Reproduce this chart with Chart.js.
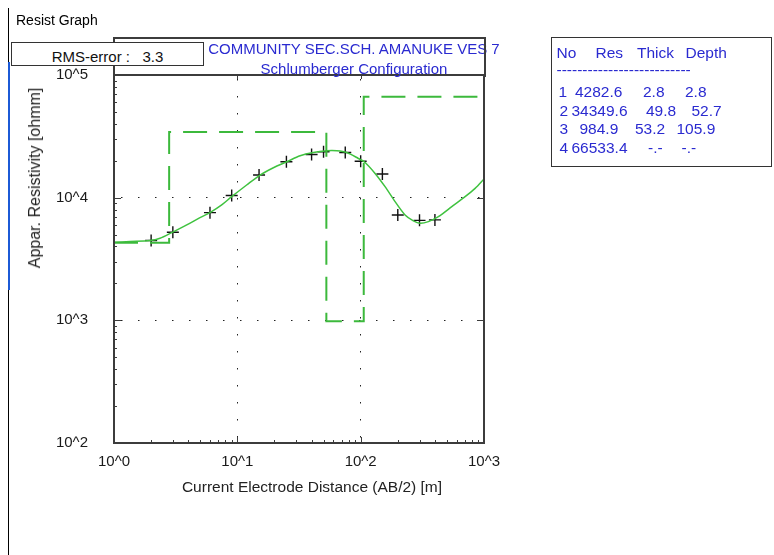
<!DOCTYPE html>
<html>
<head>
<meta charset="utf-8">
<script src="https://cdn.jsdelivr.net/npm/chart.js@4"></script>
<style>
  body { margin: 0; background: #fff; font-family: "Liberation Sans", Arial, sans-serif; }
  #wrap { position: relative; width: 774px; height: 555px; overflow: hidden; }
  #wrap canvas { position: absolute; left: 0; top: 0; }
  .abs { position: absolute; white-space: pre; font-size: 15px; line-height: 18px; }
  .blue { color: #2a2ad0; }
  #table .abs { font-size: 15.5px; }
</style>
</head>
<body>
<div id="wrap">
  <canvas id="chartVes" width="774" height="555"></canvas>
  <div class="abs" style="left:16px;top:11px;font-size:14px;color:#000">Resist Graph</div>
  <div style="position:absolute;left:8px;top:8px;width:1px;height:54px;background:#000"></div>
  <div style="position:absolute;left:8px;top:62px;width:2px;height:228px;background:#1c5ad6"></div>
  <div style="position:absolute;left:8px;top:290px;width:1px;height:265px;background:#000"></div>
  <div class="abs blue" id="title" style="left:0;width:708px;top:39px;text-align:center;line-height:20px"></div>
  <div style="position:absolute;left:113px;top:37px;width:369px;height:38px;border:2px solid #3c3c3c;border-bottom:none"></div>
  <div class="abs" id="rms" style="left:11px;top:42px;width:191px;height:22px;border:1px solid #333;background:#fff;text-align:center;line-height:28px;color:#111"></div>
  <div class="abs" id="ytitle" style="left:35px;top:178px;font-size:16px;color:#222;transform:translate(-50%,-50%) rotate(-90deg)"></div>
  <div class="abs" id="xtitle" style="left:312px;top:478px;font-size:15.5px;color:#222;transform:translateX(-50%)"></div>
  <div id="table" style="position:absolute;left:551px;top:37px;width:219px;height:128px;border:1.5px solid #333"></div>
</div>
<script>
// measured data (AB/2 in m, apparent resistivity in ohmm)
const abHalf = [2, 3, 6, 9, 15, 25, 40, 50, 75, 100, 150, 200, 300, 400];
const rhoObs = [4470, 5225, 7550, 10420, 15300, 19620, 22490, 23660, 23340, 19820, 15590, 7230, 6530, 6590];

// calculated model curve
const curveAB = [1, 1.35, 1.96, 2.36, 2.94, 3.89, 4.98, 6.0, 7.47, 9.0, 11.9, 15.3, 19.6, 25.2, 32.3, 41.3, 53.1, 64.0, 77.1, 95.8, 108.6, 130.9, 157.7, 190.1, 229.1, 267.6, 303.3, 354, 426.6, 548, 702.7, 847, 1000];
const curveRho = [4330, 4386, 4468, 4665, 5192, 5998, 6876, 7552, 8724, 10190, 12680, 15300, 17540, 19620, 21960, 23340, 24100, 24100, 23340, 20870, 19360, 15760, 12290, 9280, 7227, 6465, 6180, 6380, 7006, 8453, 10190, 11900, 14190];

// layer model
const layerNo = [1, 2, 3, 4];
const layerRes = [4282.6, 34349.6, 984.9, 66533.4];
const layerThick = [2.8, 49.8, 53.2];
const layerDepth = [2.8, 52.7, 105.9];

const xTicks = [1, 10, 100, 1000];
const yTicks = [100, 1000, 10000, 100000];

const titleLines = ["COMMUNITY SEC.SCH. AMANUKE VES 7", "Schlumberger Configuration"];
const rmsError = 3.3;

document.getElementById("title").textContent = titleLines.join("\n");
document.getElementById("rms").textContent = "RMS-error :   " + rmsError.toFixed(1);
document.getElementById("ytitle").textContent = "Appar. Resistivity [ohmm]";
document.getElementById("xtitle").textContent = "Current Electrode Distance (AB/2) [m]";

// table text (left edges per row/column, from the picture)
const table = document.getElementById("table");
function cell(txt, x, yc) {
  const d = document.createElement("div");
  d.className = "abs blue";
  d.textContent = txt;
  d.style.left = (x - 552.5) + "px";
  d.style.top = (yc - 9 - 38.5) + "px";
  table.appendChild(d);
}
cell("No", 557, 53); cell("Res", 596, 53); cell("Thick", 637.5, 53); cell("Depth", 686, 53);
cell("--------------------------", 557, 70);
const rowY = [92.5, 111, 129.5, 148];
const colX = [[559, 575.5, 643.5, 685.5], [560, 572, 646.5, 692], [560, 580, 635.5, 677], [560, 572, 648.5, 682]];
layerNo.forEach((n, i) => {
  const th = i < layerThick.length ? layerThick[i].toFixed(1) : "-.-";
  const dp = i < layerDepth.length ? layerDepth[i].toFixed(1) : "-.-";
  cell(String(n), colX[i][0], rowY[i]);
  cell(layerRes[i].toFixed(1), colX[i][1], rowY[i]);
  cell(th, colX[i][2], rowY[i]);
  cell(dp, colX[i][3], rowY[i]);
});

// stepped model line from the layers
const stepData = [{ x: xTicks[0], y: layerRes[0] }];
layerDepth.forEach((d, i) => {
  stepData.push({ x: d, y: layerRes[i] });
  stepData.push({ x: d, y: layerRes[i + 1] });
});
stepData.push({ x: xTicks[xTicks.length - 1], y: layerRes[layerRes.length - 1] });

// frame + inward ticks
const framePlugin = {
  id: "frame",
  afterDatasetsDraw(chart) {
    const { ctx, chartArea: a, scales: { x, y } } = chart;
    ctx.save();
    ctx.strokeStyle = "#3c3c3c";
    ctx.lineWidth = 1;
    ctx.beginPath();
    for (let d = 1; d < 1000; d *= 10) {
      for (let m = 2; m <= 9; m++) {
        const px = Math.round(x.getPixelForValue(d * m)) + 0.5;
        ctx.moveTo(px, a.bottom); ctx.lineTo(px, a.bottom - 3);
      }
    }
    for (let d = 100; d < 100000; d *= 10) {
      for (let m = 2; m <= 9; m++) {
        const py = Math.round(y.getPixelForValue(d * m)) + 0.5;
        ctx.moveTo(a.left, py); ctx.lineTo(a.left + 3, py);
      }
    }
    xTicks.slice(1, -1).forEach(v => {
      const px = Math.round(x.getPixelForValue(v)) + 0.5;
      ctx.moveTo(px, a.bottom); ctx.lineTo(px, a.bottom - 6);
      ctx.moveTo(px, a.top); ctx.lineTo(px, a.top + 4);
    });
    yTicks.slice(1, -1).forEach(v => {
      const py = Math.round(y.getPixelForValue(v)) + 0.5;
      ctx.moveTo(a.left, py); ctx.lineTo(a.left + 7, py);
      ctx.moveTo(a.right, py); ctx.lineTo(a.right - 7, py);
    });
    ctx.stroke();
    ctx.lineWidth = 2;
    ctx.strokeRect(a.left, a.top, a.right - a.left, a.bottom - a.top);
    ctx.restore();
  }
};

new Chart(document.getElementById("chartVes"), {
  type: "line",
  data: {
    datasets: [
      {
        label: "Model",
        data: stepData,
        borderColor: "#3cb93c",
        borderWidth: 2,
        borderDash: [24, 12],
        pointRadius: 0,
        tension: 0,
        fill: false
      },
      {
        label: "Calculated",
        data: curveAB.map((v, i) => ({ x: v, y: curveRho[i] })),
        borderColor: "#3fc23f",
        borderWidth: 1.5,
        tension: 0.3,
        pointRadius: 0,
        fill: false
      },
      {
        label: "Observed",
        data: abHalf.map((v, i) => ({ x: v, y: rhoObs[i] })),
        showLine: false,
        pointStyle: "cross",
        pointRadius: 6,
        borderColor: "#111",
        borderWidth: 1.4
      }
    ]
  },
  options: {
    responsive: false,
    animation: false,
    devicePixelRatio: 1,
    layout: { padding: { left: 0, right: 290, top: 75, bottom: 72 } },
    plugins: { legend: { display: false }, tooltip: { enabled: false } },
    scales: {
      x: {
        type: "logarithmic",
        min: 1, max: 1000,
        afterBuildTicks: s => { s.ticks = xTicks.map(v => ({ value: v })); },
        afterFit: s => { s.height = 40; },
        ticks: {
          autoSkip: false, maxRotation: 0, padding: 10,
          color: "#1a1a1a",
          font: { family: "'Liberation Sans', Arial", size: 15 },
          callback: v => "10^" + Math.round(Math.log10(v))
        },
        grid: { color: "#222", lineWidth: 1, drawTicks: false },
        border: { display: false, dash: [1.5, 15.5], dashOffset: 13 }
      },
      y: {
        type: "logarithmic",
        min: 100, max: 100000,
        afterBuildTicks: s => { s.ticks = yTicks.map(v => ({ value: v })); },
        afterFit: s => { s.width = 114; },
        ticks: {
          autoSkip: false, padding: 26,
          color: "#1a1a1a",
          font: { family: "'Liberation Sans', Arial", size: 15 },
          callback: v => "10^" + Math.round(Math.log10(v))
        },
        grid: { color: "#222", lineWidth: 1, drawTicks: false },
        border: { display: false, dash: [1.5, 15.5], dashOffset: 10 }
      }
    }
  },
  plugins: [framePlugin]
});
</script>
</body>
</html>
